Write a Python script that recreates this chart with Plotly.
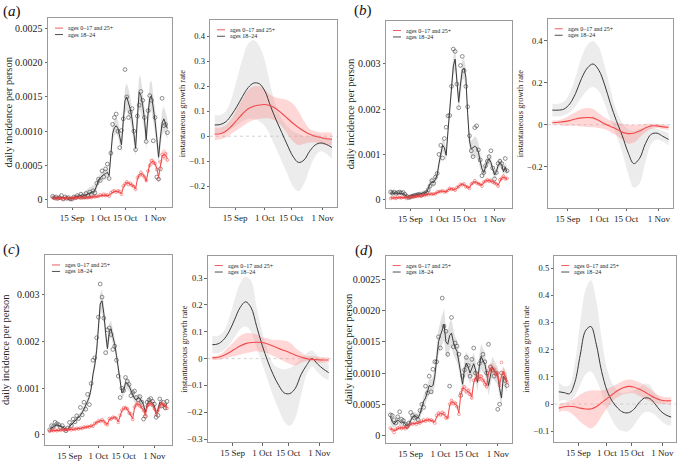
import pandas as pd
import plotly.graph_objects as go

FONT = "Liberation Serif"
W, H = 681, 461
SCALE = 1e-5  # incidence arrays below are in units of 1e-5 per person

LEFT_START = "2020-09-04"
LEGEND = ["ages 0\u201317 and 25+", "ages 18\u201324"]
XTICK_DATES = ["2020-09-15", "2020-10-01", "2020-10-15", "2020-11-01"]
XTICK_TEXT = ["15 Sep", "1 Oct", "15 Oct", "1 Nov"]
PANEL_LABELS = ["a", "b", "c", "d"]

# ---------------- panel (a) ----------------
a_black_fit = [3,3,3,3,3,3,2,2,2,1,1, 2,3,4,5,5,6,5,6,7,9, 10,11,12,14,
               22,28,32,35,37,38,40,35, 65,97,105,108,104,92,80,
               115,145,150,142,132,118,95,75, 120,157,152,138,118,88,
               125,148,152,135,115,90,62, 90,112,118,110,104]
a_black_obs = [5,3,4,2,3,6,1,4,2,3,1, 1,4,3,6,4,8,5,4,9,6, 11,7,13,10,
               24,30,28,42,33,45,52,31, 68,110,120,125,100,76,101,
               118,190,150,120,128,133,100,73, 122,138,158,145,120,85,
               130,152,145,86,120,33,30, 45,148,108,110,98]
a_black_hw = [2,2,2,2,2,2,2,2,2,2,2, 2,2,3,3,3,4,5,6,7,8, 9,9,9,8,
              6,6,6,6,7,7,7,7, 10,12,12,12,12,12,12,
              15,18,20,20,18,16,14,12, 20,25,25,22,18,15,
              18,22,22,20,18,15,12, 15,18,18,16,15]
a_red_fit = [2,2,2,2,2,2,2,2,2,2,2, 2,2,2,3,3,3,3,3,3,3, 3,3,4,4,
             4,5,6,6,7,7,7,6, 9,11,12,12,12,11,9,
             18,22,25,24,23,22,20,16, 30,36,38,37,34,27,
             40,52,55,56,52,46,33, 52,64,66,65,60]
a_red_obs = [3,2,1,2,3,2,1,2,3,2,1, 2,3,2,3,4,2,3,4,3,3, 4,3,5,4,
             5,5,7,6,8,6,7,5, 10,12,13,11,13,12,8,
             20,23,26,22,24,21,19,15, 32,35,40,36,33,28,
             42,50,57,54,53,44,30, 55,66,63,67,58]
a_red_hw = [1]*25 + [2]*15 + [3]*14 + [5,5,5,5,5,5,4,7,8,8,7,7]

a_g_start = "2020-09-04"
a_g_black = [0.045,0.047,0.058,0.085,0.12,0.16,0.195,0.213,0.21,0.18,0.12,0.065,
             0.015,-0.035,-0.08,-0.105,-0.095,-0.06,-0.035,-0.027,-0.033,-0.045]
a_g_black_hi = [0.085,0.085,0.1,0.15,0.23,0.31,0.37,0.385,0.36,0.3,0.2,0.12,
                0.07,0.04,0.02,0.01,0.0,0.0,0.01,0.0,-0.005,-0.01]
a_g_black_lo = [0.01,0.015,0.02,0.03,0.045,0.06,0.07,0.07,0.06,0.04,0.0,-0.05,
                -0.1,-0.15,-0.2,-0.22,-0.19,-0.13,-0.08,-0.06,-0.07,-0.09]
a_g_red = [0.008,0.01,0.02,0.04,0.065,0.09,0.11,0.12,0.125,0.127,0.122,0.11,
           0.092,0.072,0.052,0.035,0.02,0.008,0.0,-0.005,-0.01,-0.012]
a_g_red_hi = [0.035,0.035,0.045,0.07,0.11,0.15,0.185,0.2,0.2,0.185,0.165,0.155,
              0.15,0.145,0.13,0.1,0.06,0.03,0.02,0.015,0.015,0.015]
a_g_red_lo = [-0.015,-0.012,-0.005,0.01,0.025,0.04,0.055,0.065,0.07,0.072,0.07,0.06,
              0.04,0.01,-0.02,-0.035,-0.03,-0.025,-0.025,-0.03,-0.035,-0.035]

# ---------------- panel (b) ----------------
b_black_fit = [15,15,15,15,15,14,14,13,10,6,5, 8,9,10,11,12,13,13,14,15,16, 25,35,40,38,
               45,55,80,100,120,115,98,150, 200,255,295,310,270,215,255,
               285,290,270,190,130,112,115,118, 115,105,85,68,60,72,
               85,90,82,68,55,62,75, 82,78,62,72,62]
b_black_obs = [17,15,17,14,16,17,15,16,12,8,5, 6,8,9,10,11,12,10,12,14,16, 22,30,42,36,
               50,58,100,120,92,135,160,185, 186,250,332,327,255,203,296,
               316,285,250,205,141,108,95,159, 163,110,88,53,60,75,
               85,95,108,70,46,60,80, 85,80,70,91,64]
b_black_hw = [8,6,5,4,4,4,4,4,4,4,4, 4,4,4,4,4,4,5,5,6,6, 8,10,10,10,
              10,10,12,14,15,15,15,15, 18,20,22,25,22,20,20,
              22,22,20,18,18,18,20,22, 22,20,18,12,12,12,
              12,12,12,10,10,10,10, 10,10,10,10,10]
b_red_fit = [4,4,4,4,5,5,5,5,5,4,5, 6,6,7,7,8,8,9,10,10,11, 12,13,13,12,
             14,16,17,19,19,18,17,22, 24,24,23,22,26,30,33,
             34,33,30,27,26,34,38,40, 38,36,33,32,38,42,
             43,42,42,40,38,36,32, 42,48,50,48,46]
b_red_obs = [3,5,4,3,6,5,4,6,5,3,6, 5,7,6,8,7,9,8,11,9,12, 11,14,12,13,
             13,17,18,18,20,17,18,21, 25,23,24,21,27,29,34,
             33,35,29,28,25,35,37,42, 37,35,34,30,39,41,
             44,41,43,39,37,35,30, 44,47,52,46,47]
b_red_hw = [2]*33 + [3]*21 + [4]*12

b_g_start = "2020-09-07"
b_g_black = [0.07,0.07,0.075,0.1,0.15,0.22,0.27,0.29,0.26,0.19,0.1,0.02,
             -0.05,-0.13,-0.185,-0.16,-0.09,-0.045,-0.04,-0.055,-0.07]
b_g_black_hi = [0.1,0.1,0.11,0.15,0.23,0.32,0.38,0.4,0.37,0.28,0.17,0.07,
                0.01,-0.02,-0.03,-0.02,-0.01,-0.01,-0.02,-0.03,-0.04]
b_g_black_lo = [0.04,0.04,0.045,0.06,0.09,0.13,0.165,0.18,0.16,0.1,0.02,-0.05,
                -0.13,-0.23,-0.3,-0.28,-0.18,-0.09,-0.07,-0.08,-0.1]
b_g_red = [0.01,0.012,0.015,0.02,0.028,0.033,0.035,0.033,0.02,0.005,-0.008,-0.02,
           -0.035,-0.042,-0.04,-0.03,-0.015,-0.005,-0.005,-0.01,-0.012]
b_g_red_hi = [0.02,0.022,0.03,0.045,0.06,0.075,0.08,0.075,0.055,0.035,0.02,0.01,
              0.005,0.0,0.0,0.0,0.005,0.005,0.005,0.002,0.0]
b_g_red_lo = [0.0,0.0,-0.005,-0.005,-0.005,-0.008,-0.01,-0.012,-0.015,-0.02,-0.035,-0.05,
              -0.07,-0.09,-0.085,-0.06,-0.035,-0.02,-0.015,-0.02,-0.025]

# ---------------- panel (c) ----------------
c_black_fit = [12,15,18,20,22,20,18,17,15,10,12, 18,22,25,30,35,38,42,48,55,62, 72,82,100,130,
               150,180,230,280,287,260,218,185, 220,227,210,195,170,140,110,
               90,94,112,110,105,95,85,78, 75,80,78,72,65,48,
               65,73,70,68,62,45,55, 70,68,65,60,68]
c_black_obs = [11,20,18,27,24,22,16,20,14,9,15, 27,20,34,28,41,35,59,43,70,55, 87,65,110,160,
               165,208,252,323,295,250,176,225, 229,215,183,190,160,126,80,
               100,95,123,115,108,84,91,94, 80,75,82,70,34,40,
               70,75,78,72,66,38,42, 77,62,70,58,72]
c_black_hw = [4]*11 + [5,5,5,5,6,6,6,7,7,8] + [8,9,10,12] + \
             [14,16,20,22,25,22,18,16] + [18,18,16,15,14,12,10] + \
             [10,10,12,12,11,10,9,9] + [9,9,9,8,8,8] + [8]*7 + [8]*5
c_red_fit = [9,9,9,10,10,10,10,11,11,11,11, 12,12,12,13,13,14,14,15,16,17, 17,18,19,20,
             24,27,29,30,31,30,25,23, 33,35,37,38,36,28,40,
             52,56,59,55,48,44,35,58, 66,66,64,58,54,42,
             60,66,67,65,55,45,50, 62,66,66,62,58]
c_red_obs = [8,10,9,11,9,11,10,12,10,12,11, 13,11,13,12,14,13,15,14,17,16, 18,17,20,19,
             25,26,30,29,33,29,24,22, 35,34,38,37,35,27,42,
             53,58,57,56,47,45,33,60, 65,68,62,59,52,40,
             62,65,69,63,56,43,52, 60,68,64,63,57]
c_red_hw = [2]*25 + [3]*15 + [5]*26

c_g_start = "2020-09-04"
c_g_black = [0.052,0.055,0.07,0.1,0.145,0.19,0.212,0.19,0.12,0.05,-0.01,-0.06,
             -0.1,-0.128,-0.13,-0.11,-0.06,-0.025,0.0,-0.02,-0.038,-0.052]
c_g_black_hi = [0.085,0.085,0.1,0.15,0.22,0.28,0.305,0.29,0.19,0.1,0.03,-0.02,
                -0.035,-0.04,-0.035,-0.02,0.0,0.02,0.03,0.01,-0.01,-0.02]
c_g_black_lo = [0.02,0.02,0.03,0.05,0.08,0.11,0.12,0.1,0.04,-0.02,-0.08,-0.14,
                -0.19,-0.235,-0.25,-0.22,-0.14,-0.06,-0.03,-0.05,-0.07,-0.08]
c_g_red = [0.003,0.005,0.012,0.022,0.035,0.047,0.056,0.06,0.061,0.06,0.055,0.047,
           0.038,0.03,0.022,0.013,0.006,0.0,-0.003,-0.004,-0.005,-0.005]
c_g_red_hi = [0.01,0.012,0.025,0.045,0.065,0.085,0.095,0.095,0.09,0.08,0.075,0.07,
              0.07,0.068,0.06,0.04,0.025,0.01,0.01,0.008,0.005,0.005]
c_g_red_lo = [-0.005,-0.005,0.0,0.005,0.01,0.015,0.02,0.025,0.028,0.025,0.02,0.01,
              0.0,-0.01,-0.02,-0.025,-0.015,-0.01,-0.01,-0.015,-0.015,-0.015]

# ---------------- panel (d) ----------------
d_black_fit = [30,22,18,22,25,22,20,22,18,15,18, 25,30,32,30,28,35,45,55,60,70, 80,78,80,95,
               120,150,160,170,178,150,146,160, 164,150,140,135,120,100,82,
               106,116,110,100,108,115,105,85, 110,127,120,115,100,80,
               95,110,105,100,95,75,60, 95,90,85]
d_black_obs = [33,32,25,20,30,38,26,24,18,14,20, 37,32,28,30,25,40,50,45,79,68, 95,70,106,118,
               118,158,140,220,175,167,130,79, 189,142,148,143,130,64,95,
               105,125,112,95,122,140,100,92, 115,120,130,118,100,146,
               110,105,95,100,42,50,100, 95,88,80]
d_black_hw = [10,8,6,6,6,6,6,6,6,6,6, 6,6,6,6,7,8,9,10,10,12, 12,12,14,15,
              18,20,22,25,25,22,22,22, 22,20,18,18,16,14,14,
              16,18,18,18,18,18,16,15, 18,20,20,18,16,16,
              16,16,16,15,14,14,14, 15,15,15]
d_red_fit = [11,10,8,9,11,12,12,12,12,13,15, 18,19,19,19,20,21,22,24,24,25, 25,24,24,22,
             30,34,35,35,34,30,28,48, 54,53,50,48,36,65,76,
             75,72,70,68,62,85,92,95, 92,93,90,84,80,100,
             108,107,104,100,98,82,95, 102,95,88]
d_red_obs = [12,9,5,10,12,13,11,13,11,14,16, 19,18,20,18,21,20,23,25,23,26, 24,25,23,20,
             32,36,33,37,35,28,29,50, 56,51,52,46,34,68,74,
             78,70,72,66,60,88,90,98, 90,95,88,82,78,104,
             110,104,106,98,100,80,117, 100,92,85]
d_red_hw = [2]*25 + [4]*15 + [6]*14 + [8]*10

d_g_start = "2020-09-04"
d_g_black = [0.045,0.042,0.038,0.08,0.18,0.27,0.285,0.22,0.12,0.05,0.01,-0.015,
             -0.03,-0.032,-0.02,0.005,0.022,0.02,0.0,-0.025,-0.04,-0.048]
d_g_black_hi = [0.08,0.065,0.07,0.15,0.3,0.42,0.455,0.38,0.24,0.13,0.075,0.05,
                0.04,0.045,0.05,0.06,0.075,0.07,0.04,0.02,0.005,0.0]
d_g_black_lo = [0.01,0.015,0.01,0.03,0.07,0.11,0.12,0.09,0.04,-0.02,-0.06,-0.09,
                -0.1,-0.1,-0.08,-0.05,-0.03,-0.03,-0.04,-0.06,-0.075,-0.08]
d_g_red = [-0.015,-0.01,-0.008,-0.01,-0.015,-0.018,-0.018,-0.01,0.005,0.02,0.035,0.05,
           0.06,0.065,0.063,0.055,0.045,0.033,0.022,0.015,0.012,0.012]
d_g_red_hi = [0.0,0.005,0.01,0.02,0.035,0.045,0.05,0.05,0.05,0.055,0.065,0.075,
              0.085,0.09,0.088,0.08,0.07,0.055,0.04,0.03,0.025,0.025]
d_g_red_lo = [-0.03,-0.025,-0.03,-0.045,-0.065,-0.08,-0.09,-0.075,-0.045,-0.015,0.01,0.025,
              0.035,0.04,0.04,0.03,0.02,0.01,0.005,0.0,0.0,-0.002]

# y ticks
INC_TICKS_A = [0, 0.0005, 0.0010, 0.0015, 0.0020, 0.0025]
INC_TEXT_A = ["0", "0.0005", "0.0010", "0.0015", "0.0020", "0.0025"]
INC_TICKS_B = [0, 0.001, 0.002, 0.003]
INC_TEXT_B = ["0", "0.001", "0.002", "0.003"]
GR_TICKS_A = [-0.2, -0.1, 0, 0.1, 0.2, 0.3, 0.4]
GR_TICKS_B = [-0.2, 0, 0.2, 0.4]
GR_TICKS_C = [-0.3, -0.2, -0.1, 0, 0.1, 0.2, 0.3]
GR_TICKS_D = [-0.1, 0, 0.1, 0.2, 0.3, 0.4, 0.5]

# ---------- layout geometry (pixels: left, right, top, bottom) ----------
BOXES = [
    (48, 172, 18.3, 208.3), (210, 336.7, 20, 208),
    (386, 511.7, 20.7, 209.3), (547.7, 673.3, 19, 209),
    (45, 171.7, 256.7, 447.7), (207.7, 333.3, 257.3, 445),
    (385.7, 511.7, 257.3, 445.7), (554.3, 675.7, 257.3, 445),
]
YRANGES = [
    (-0.000106, 0.00265), (-0.282, 0.466),
    (-0.00018, 0.00395), (-0.395, 0.505),
    (-0.00021, 0.00385), (-0.311, 0.384),
    (-0.000117, 0.00288), (-0.14, 0.546),
]
YTITLE_X = [9, 182, 350, 520, 6, 184, 348, 526]
LABEL_POS = [(1, 12), (352, 11), (1, 251), (353, 252)]

BLACK = "#3a3a3a"
RED = "#f24a4a"
GRAY_BAND = "rgba(175,175,175,0.38)"
GRAY_BAND_G = "rgba(200,200,200,0.35)"
PINK_BAND = "rgba(255,110,110,0.28)"

def gmin(v):
    return "\u2212" + str(abs(v)) if v < 0 else ("0" if v == 0 else str(v))

def date_range_pad(x):
    span = x[-1] - x[0]
    return [(x[0] - 0.04 * span).isoformat(), (x[-1] + 0.04 * span).isoformat()]

fig = go.Figure()

def band(x, lo, hi, color, ax, shape="linear"):
    fig.add_trace(go.Scatter(x=x, y=lo, mode="lines", line=dict(width=0, shape=shape),
                             hoverinfo="skip", showlegend=False, xaxis="x" + ax, yaxis="y" + ax))
    fig.add_trace(go.Scatter(x=x, y=hi, mode="lines", line=dict(width=0, shape=shape),
                             fill="tonexty", fillcolor=color, hoverinfo="skip",
                             showlegend=False, xaxis="x" + ax, yaxis="y" + ax))

inc_panels = [
    (a_black_fit, a_black_obs, a_black_hw, a_red_fit, a_red_obs, a_red_hw),
    (b_black_fit, b_black_obs, b_black_hw, b_red_fit, b_red_obs, b_red_hw),
    (c_black_fit, c_black_obs, c_black_hw, c_red_fit, c_red_obs, c_red_hw),
    (d_black_fit, d_black_obs, d_black_hw, d_red_fit, d_red_obs, d_red_hw),
]
gr_panels = [
    (a_g_start, a_g_black, a_g_black_lo, a_g_black_hi, a_g_red, a_g_red_lo, a_g_red_hi),
    (b_g_start, b_g_black, b_g_black_lo, b_g_black_hi, b_g_red, b_g_red_lo, b_g_red_hi),
    (c_g_start, c_g_black, c_g_black_lo, c_g_black_hi, c_g_red, c_g_red_lo, c_g_red_hi),
    (d_g_start, d_g_black, d_g_black_lo, d_g_black_hi, d_g_red, d_g_red_lo, d_g_red_hi),
]
inc_ticks = [(INC_TICKS_A, INC_TEXT_A), (INC_TICKS_B, INC_TEXT_B),
             (INC_TICKS_B, INC_TEXT_B), (INC_TICKS_A, INC_TEXT_A)]
gr_ticks = [GR_TICKS_A, GR_TICKS_B, GR_TICKS_C, GR_TICKS_D]

layout = dict(width=W, height=H, margin=dict(l=0, r=0, t=0, b=0),
              paper_bgcolor="white", plot_bgcolor="white", showlegend=False,
              font=dict(family=FONT, color="#222"))
shapes, annotations = [], []
xranges = {}

for p in range(4):
    bf, bo, bh, rf, ro, rh = inc_panels[p]
    ax = str(2 * p + 1)
    x = pd.date_range(LEFT_START, periods=len(bf), freq="D")
    xranges[ax] = date_range_pad(x)
    bfy = [v * SCALE for v in bf]
    band(x, [(f - h) * SCALE for f, h in zip(bf, bh)], [(f + h) * SCALE for f, h in zip(bf, bh)],
         GRAY_BAND, ax)
    fig.add_trace(go.Scatter(x=x, y=bfy, mode="lines", line=dict(color=BLACK, width=1),
                             xaxis="x" + ax, yaxis="y" + ax))
    fig.add_trace(go.Scatter(x=x, y=[v * SCALE for v in bo], mode="markers",
                             marker=dict(symbol="circle-open", size=3.8, color="#444",
                                         line=dict(width=0.6)),
                             xaxis="x" + ax, yaxis="y" + ax))
    band(x, [(f - h) * SCALE for f, h in zip(rf, rh)], [(f + h) * SCALE for f, h in zip(rf, rh)],
         PINK_BAND, ax)
    fig.add_trace(go.Scatter(x=x, y=[v * SCALE for v in rf], mode="lines",
                             line=dict(color=RED, width=1), xaxis="x" + ax, yaxis="y" + ax))
    fig.add_trace(go.Scatter(x=x, y=[v * SCALE for v in ro], mode="markers",
                             marker=dict(symbol="circle-open", size=2.8, color="rgba(240,60,60,0.8)",
                                         line=dict(width=0.6)),
                             xaxis="x" + ax, yaxis="y" + ax))

    st, gb, gbl, gbh, gr, grl, grh = gr_panels[p]
    ax = str(2 * p + 2)
    xg = pd.date_range(st, periods=len(gb), freq="3D")
    xranges[ax] = date_range_pad(xg)
    band(xg, gbl, gbh, GRAY_BAND_G, ax, "spline")
    band(xg, grl, grh, PINK_BAND, ax, "spline")
    fig.add_trace(go.Scatter(x=xg, y=gb, mode="lines", line=dict(color=BLACK, width=1, shape="spline"),
                             xaxis="x" + ax, yaxis="y" + ax))
    fig.add_trace(go.Scatter(x=xg, y=gr, mode="lines", line=dict(color=RED, width=1.1, shape="spline"),
                             xaxis="x" + ax, yaxis="y" + ax))
    shapes.append(dict(type="line", xref="x" + ax + " domain", yref="y" + ax, x0=0, x1=1, y0=0, y1=0,
                       line=dict(color="#c8c8c8", width=0.8, dash="dot"), layer="below"))

for i in range(8):
    ax = str(i + 1)
    L, R, T, B = BOXES[i]
    left = (i % 2 == 0)
    p = i // 2
    if left:
        tv, tt = inc_ticks[p]
        ytitle = "daily incidence per person"
        yfs, tfs = 10, 10.5
    else:
        tv = gr_ticks[p]
        tt = [gmin(v) for v in tv]
        ytitle = "instantaneous growth rate"
        yfs, tfs = 8.5, 8.5
    common = dict(showline=True, mirror=True, linecolor="#9a9a9a", linewidth=0.8,
                  ticks="outside", ticklen=2.5, tickcolor="#666", tickwidth=0.7,
                  showgrid=False, zeroline=False)
    layout["xaxis" + ("" if i == 0 else ax)] = dict(
        domain=[L / W, R / W], anchor="y" + ax, type="date", range=xranges[ax],
        tickmode="array", tickvals=XTICK_DATES, ticktext=XTICK_TEXT,
        tickfont=dict(size=9, family=FONT, color="#222"), **common)
    layout["yaxis" + ("" if i == 0 else ax)] = dict(
        domain=[1 - B / H, 1 - T / H], anchor="x" + ax, range=list(YRANGES[i]),
        tickmode="array", tickvals=tv, ticktext=tt,
        tickfont=dict(size=yfs, family=FONT, color="#222"), **common)
    annotations.append(dict(text=ytitle, x=YTITLE_X[i] / W, y=1 - (T + B) / 2 / H,
                            xref="paper", yref="paper", textangle=-90, showarrow=False,
                            xanchor="center", yanchor="middle",
                            font=dict(size=tfs, family=FONT, color="#222")))
    # legend
    for k, (lab, col) in enumerate(zip(LEGEND, [RED, BLACK])):
        yy = 1 - (T + 10 + 6.5 * k) / H
        shapes.append(dict(type="line", xref="paper", yref="paper",
                           x0=(L + 7) / W, x1=(L + 15) / W, y0=yy, y1=yy,
                           line=dict(color=col, width=0.9)))
        annotations.append(dict(text=lab, x=(L + 18) / W, y=yy, xref="paper", yref="paper",
                                showarrow=False, xanchor="left", yanchor="middle",
                                font=dict(size=6, family=FONT, color="#222")))

for p, (lx, ly) in enumerate(LABEL_POS):
    annotations.append(dict(text="(<i>" + PANEL_LABELS[p] + "</i>)", x=lx / W, y=1 - ly / H,
                            xref="paper", yref="paper", showarrow=False, xanchor="left",
                            yanchor="middle", font=dict(size=15, family=FONT, color="#111")))

layout["shapes"] = shapes
layout["annotations"] = annotations
fig.update_layout(**layout)
fig.write_html("out.html", config={"displayModeBar": False},
               post_script="document.body.style.margin='0px';")
